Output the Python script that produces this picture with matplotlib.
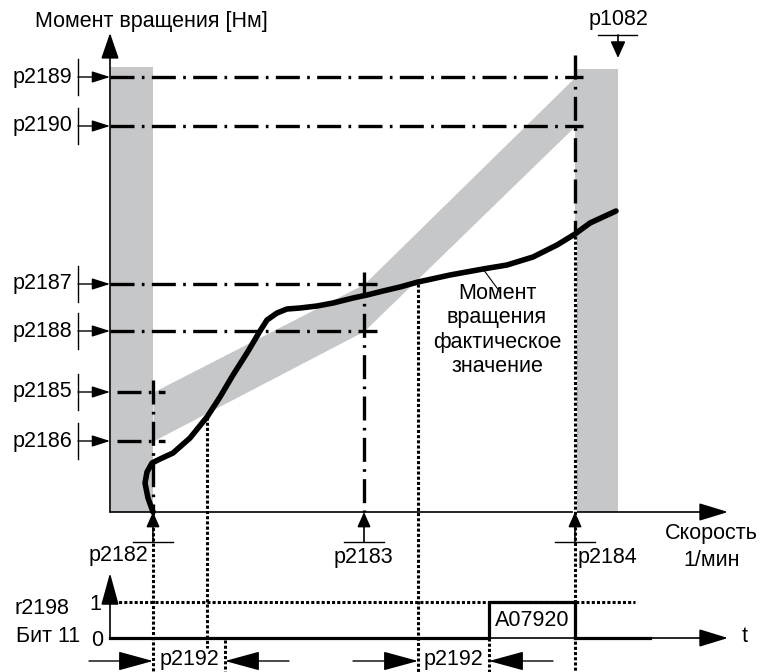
import numpy as np
import matplotlib.pyplot as plt

plt.rcParams['font.family'] = ['Liberation Sans', 'DejaVu Sans']

# drawing units = pixels, y grows downward
x_axis_y = 512
y_axis_x = 110

# torque thresholds
level_names = ['p2189', 'p2190', 'p2187', 'p2188', 'p2185', 'p2186']
level_y = [77, 126, 284, 331, 392, 441]
level_x0 = [110, 110, 110, 110, 117, 117]
level_x1 = [583, 583, 377, 377, 165, 165]

# speed thresholds
speed_names = ['p2182', 'p2183', 'p2184']
speed_x = [153, 364, 575]
speed_top = [380, 272, 55]

# tolerance band between thresholds
band_x = [153, 364, 575]
band_upper = [392, 284, 77]
band_lower = [441, 331, 126]

# actual torque curve
torque_x = [153, 148, 145, 147, 152, 160, 173, 190, 207, 220, 233, 247, 260, 267,
            277, 287, 300, 317, 333, 353, 367, 383, 400, 418, 450, 483, 507, 533,
            557, 575, 590, 603, 616]
torque_y = [512, 498, 483, 472, 463, 459, 453, 438, 417, 397, 375, 353, 331, 320,
            313, 309, 308, 306, 303, 298, 295, 291, 287, 282, 275, 269, 265, 257,
            245, 234, 223, 217, 211]

# crossing points -> dotted drop lines
drop_x = [153, 207, 225, 418, 489, 575]
drop_y0 = [512, 417, 640, 284, 638, 236]
drop_y1 = [672, 648, 672, 672, 672, 672]

# status bit r2198.11
bit_x = [110, 489, 489, 575, 575]
bit_y = [638, 638, 602, 602, 638]

GRAY = '#c6c7c8'
FS = 15.5
dashdot = (0, (7.2, 2.2, 0.8, 2.2))
dotted = (0, (1.0, 0.7))

fig = plt.figure(figsize=(7.6, 6.72), dpi=100)
ax = fig.add_axes([0, 0, 1, 1])
ax.set_xlim(0, 760)
ax.set_ylim(672, 0)
ax.axis('off')


def arrow(x0, y0, x1, y1, hl=10, hw=4, lw=1.2):
    ax.annotate('', xy=(x1, y1), xytext=(x0, y0),
                arrowprops=dict(arrowstyle=f'-|>,head_length={hl},head_width={hw}',
                                mutation_scale=1, color='k', lw=lw,
                                shrinkA=0, shrinkB=0))


# gray bands
ax.fill_between([111, 153], 67, x_axis_y, color=GRAY, lw=0, zorder=1)
ax.fill_between([575, 618], 69, x_axis_y, color=GRAY, lw=0, zorder=1)
ax.fill_between(band_x, band_upper, band_lower, color=GRAY, lw=0, zorder=1)

# main axes
arrow(y_axis_x, x_axis_y, y_axis_x, 33, hl=16, hw=5.5)
arrow(y_axis_x, x_axis_y, 728, x_axis_y, hl=18, hw=5.5)
ax.text(35, 21, 'Момент вращения [Нм]', fontsize=FS, va='center', ha='left')
ax.text(711, 533, 'Скорость', fontsize=FS, va='center', ha='center')
ax.text(712, 560, '1/мин', fontsize=FS, va='center', ha='center')

# torque thresholds
for name, y, x0, x1 in zip(level_names, level_y, level_x0, level_x1):
    ax.text(72, y, name, fontsize=FS, va='center', ha='right')
    ax.plot([78, 78], [y - 18, y + 18], color='k', lw=1)
    arrow(78, y, y_axis_x, y, hl=11, hw=3.5, lw=1)
    ax.plot([x0, x1], [y, y], color='k', lw=2.4, ls=dashdot,
            dash_capstyle='butt', zorder=3)

# speed thresholds
for name, x, top in zip(speed_names, speed_x, speed_top):
    ax.plot([x, x], [top, x_axis_y], color='k', lw=2.4, ls=dashdot,
            dash_capstyle='butt', zorder=3)
    ax.plot([x - 20, x + 20], [542, 542], color='k', lw=1)
    arrow(x, 542, x, x_axis_y, hl=9, hw=4, lw=1.2)
ax.text(118, 556, speed_names[0], fontsize=FS, va='center', ha='center')
ax.text(363, 557, speed_names[1], fontsize=FS, va='center', ha='center')
ax.text(578, 557, speed_names[2], fontsize=FS, va='center', ha='left')

# p2184 line goes dotted below the curve
ax.plot([575, 575], [236, x_axis_y], color='white', lw=3, zorder=3.5)

# p1082
ax.text(618, 20, 'p1082', fontsize=FS, va='center', ha='center')
ax.plot([598, 637], [35, 35], color='k', lw=1)
arrow(618, 35, 618, 58, hl=10, hw=4.5, lw=1.2)

# dotted drop lines
for x, y0, y1 in zip(drop_x, drop_y0, drop_y1):
    ax.plot([x, x], [y0, y1], color='k', lw=2.2, ls=dotted,
            dash_capstyle='butt', zorder=4)

# actual torque
ax.plot(torque_x, torque_y, color='k', lw=4, solid_joinstyle='round',
        solid_capstyle='round', zorder=5)
ax.plot([483, 500], [269, 292], color='k', lw=0.8, zorder=5)
ax.text(497, 330, 'Момент\nвращения\nфактическое\nзначение', fontsize=FS,
        va='center', ha='center', linespacing=1.2)

# timing diagram
arrow(y_axis_x, 638, y_axis_x, 573, hl=20, hw=5.5)
arrow(y_axis_x, 638, 728, 638, hl=18, hw=5.5)
ax.plot([103, 635], [602, 602], color='k', lw=2.2, ls=dotted,
        dash_capstyle='butt', zorder=4)
ax.plot(bit_x, bit_y, color='k', lw=2.3, zorder=5)
ax.plot([575, 650], [638, 638], color='k', lw=2.3, zorder=5)
ax.text(532, 620, 'A07920', fontsize=FS, va='center', ha='center')
ax.text(15, 608, 'r2198', fontsize=FS, va='center', ha='left')
ax.text(16, 637, 'Бит 11', fontsize=FS, va='center', ha='left')
ax.text(95, 604, '1', fontsize=FS, va='center', ha='center')
ax.text(97, 641, '0', fontsize=FS, va='center', ha='center')
ax.text(745, 637, 't', fontsize=FS, va='center', ha='center')

# delay p2192
arrow(89, 661, 153, 661, hl=22, hw=6, lw=1)
arrow(289, 661, 225, 661, hl=22, hw=6, lw=1)
ax.text(189, 659, 'p2192', fontsize=FS, va='center', ha='center')
arrow(353, 661, 418, 661, hl=22, hw=6, lw=1)
arrow(553, 661, 489, 661, hl=22, hw=6, lw=1)
ax.text(453, 659, 'p2192', fontsize=FS, va='center', ha='center')

fig.savefig('out.png', dpi=100)
